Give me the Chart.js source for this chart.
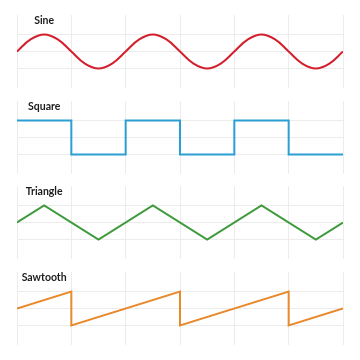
<!DOCTYPE html>
<html>
<head>
<meta charset="utf-8">
<script src="https://cdn.jsdelivr.net/npm/chart.js@4.4.1/dist/chart.umd.min.js"></script>
<style>
  html, body { margin: 0; padding: 0; background: #fff; }
  #wrap { position: relative; width: 360px; height: 360px; }
  .panel { position: absolute; left: 0; width: 360px; height: 73px; }
</style>
</head>
<body>
<div id="wrap">
  <div class="panel" style="top:15px"><canvas id="sineChart"></canvas></div>
  <div class="panel" style="top:101px"><canvas id="squareChart"></canvas></div>
  <div class="panel" style="top:186px"><canvas id="triangleChart"></canvas></div>
  <div class="panel" style="top:272px"><canvas id="sawChart"></canvas></div>
</div>
<script>
// grid positions
const xTicks = [0, 1, 2, 3, 4, 5, 6];
const yTicks = [-1, 0, 1];

// sine, read every quarter grid step
const sineX = [0, 0.25, 0.5, 0.75, 1, 1.25, 1.5, 1.75, 2, 2.25, 2.5, 2.75, 3,
               3.25, 3.5, 3.75, 4, 4.25, 4.5, 4.75, 5, 5.25, 5.5, 5.75, 6];
const sineY = [0, 0.71, 1, 0.71, 0, -0.71, -1, -0.71, 0, 0.71, 1, 0.71, 0,
               -0.71, -1, -0.71, 0, 0.71, 1, 0.71, 0, -0.71, -1, -0.71, 0];

const squareX = [0, 1, 1, 2, 2, 3, 3, 4, 4, 5, 5, 6];
const squareY = [1, 1, -1, -1, 1, 1, -1, -1, 1, 1, -1, -1];

const triangleX = [0, 0.5, 1.5, 2.5, 3.5, 4.5, 5.5, 6];
const triangleY = [0, 1, -1, 1, -1, 1, -1, 0];

const sawX = [0, 1, 1, 3, 3, 5, 5, 6];
const sawY = [0, 1, -1, 1, -1, 1, -1, 0];

const waveLabel = {
    id: "waveLabel",
    afterDraw(chart, args, opts) {
        const c = chart.ctx;
        const x = chart.scales.x.getPixelForValue(opts.at);
        c.save();
        c.font = "bold 10.5px Lato";
        c.fillStyle = "#1c1c1c";
        c.textAlign = "center";
        c.textBaseline = "middle";
        c.fillText(opts.text, x, chart.chartArea.top + 6);
        c.restore();
    }
};

function makeWave(id, name, xs, ys, color, tension) {
    return new Chart(document.getElementById(id), {
        type: "line",
        data: {
            datasets: [{
                label: name,
                data: xs.map((x, i) => ({ x: x, y: ys[i] })),
                borderColor: color,
                borderWidth: 2,
                pointRadius: 0,
                tension: tension,
                fill: false
            }]
        },
        options: {
            responsive: true,
            maintainAspectRatio: false,
            animation: false,
            layout: { padding: { left: 17, right: 17, top: 0, bottom: 0 } },
            plugins: {
                legend: { display: false },
                tooltip: { enabled: false },
                waveLabel: { text: name, at: 0.5 }
            },
            scales: {
                x: {
                    type: "linear",
                    min: 0,
                    max: 6,
                    afterBuildTicks: axis => { axis.ticks = xTicks.map(v => ({ value: v })); },
                    ticks: { display: false },
                    border: { display: false },
                    grid: { color: "#ececec", drawTicks: false }
                },
                y: {
                    min: -2.15,
                    max: 2.15,
                    afterBuildTicks: axis => { axis.ticks = yTicks.map(v => ({ value: v })); },
                    ticks: { display: false },
                    border: { display: false },
                    grid: { color: "#ececec", drawTicks: false }
                }
            }
        },
        plugins: [waveLabel]
    });
}

makeWave("sineChart", "Sine", sineX, sineY, "#d31f2b", 0.4);
makeWave("squareChart", "Square", squareX, squareY, "#2b9fd3", 0);
makeWave("triangleChart", "Triangle", triangleX, triangleY, "#3e9a3a", 0);
makeWave("sawChart", "Sawtooth", sawX, sawY, "#e8892b", 0);
</script>
</body>
</html>
